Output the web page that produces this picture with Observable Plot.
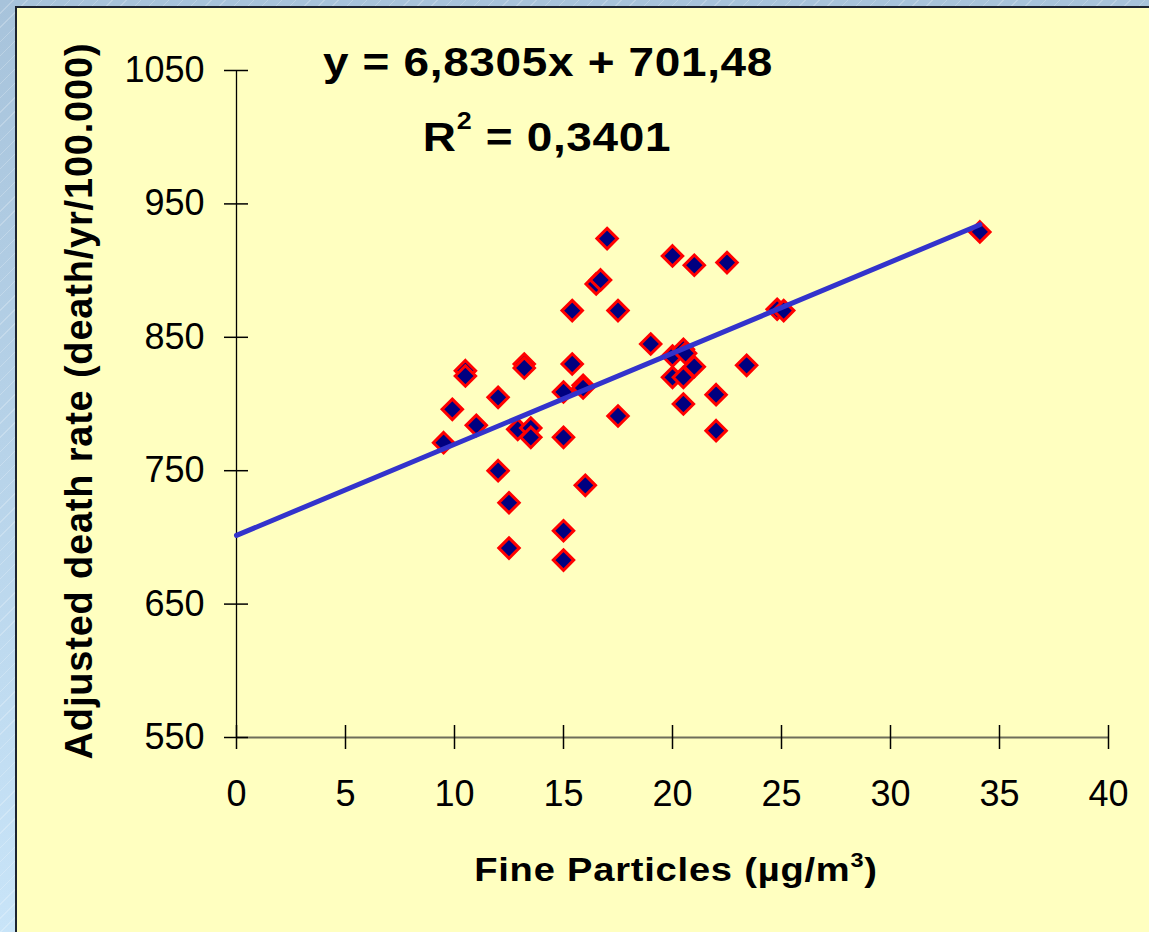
<!DOCTYPE html>
<html><head><meta charset="utf-8">
<script src="https://cdn.jsdelivr.net/npm/d3@7"></script>
<script src="https://cdn.jsdelivr.net/npm/@observablehq/plot@0.6"></script>
<style>
html,body{margin:0;padding:0;}
body{width:1149px;height:932px;overflow:hidden;position:relative;font-family:"Liberation Sans",Arial,sans-serif;
background: repeating-linear-gradient(135deg, rgba(255,255,255,0) 0 9px, rgba(255,255,255,0.22) 9px 10px), linear-gradient(to bottom,#a7c3db,#c8e4f8);}
#panel{position:absolute;left:15px;top:6px;width:1140px;height:930px;background:#ffffc0;border-left:2px solid #1c2430;border-top:2px solid #1c2430;}
#chart{position:absolute;left:0;top:0;}
.t{position:absolute;white-space:nowrap;font-weight:bold;line-height:1;color:#000;transform:translateX(-50%) scaleX(1.12);}
.t sup{line-height:0;vertical-align:baseline;position:relative;}
</style></head><body>
<div id="panel"></div>
<div id="chart"></div>
<div class="t" id="eq1" style="left:548px;top:42px;font-size:41px;letter-spacing:0.6px;">y = 6,8305x + 701,48</div>
<div class="t" id="eq2" style="left:547px;top:117px;font-size:41px;letter-spacing:0.6px;">R<sup style="font-size:24px;top:-22px;">2</sup> = 0,3401</div>
<div class="t" id="xlab" style="left:676px;top:852px;font-size:34px;letter-spacing:0.7px;">Fine Particles (µg/m<sup style="font-size:21px;top:-14px;">3</sup>)</div>
<div class="t" id="ylab" style="left:79px;top:401px;font-size:38px;letter-spacing:0.8px;transform:translate(-50%,-50%) rotate(-90deg);">Adjusted death rate (death/yr/100.000)</div>
<script>
// Data
const fineParticles = [9.5, 9.9, 10.5, 10.5, 11.0, 12.0, 12.0, 12.5, 12.5, 12.9, 13.5, 13.5, 13.2, 13.2, 15.0, 15.0, 15.0, 15.0, 15.4, 15.4, 15.9, 15.9, 16.0, 16.5, 16.7, 17.0, 17.5, 17.5, 19.0, 20.0, 20.0, 20.0, 20.5, 20.6, 20.5, 20.5, 21.0, 21.0, 22.0, 22.0, 22.5, 23.4, 24.8, 25.1, 34.1];
const deathRate = [771, 796, 825, 821, 784, 805, 750, 726, 692, 781, 782, 775, 830, 827, 809, 775, 705, 683, 830, 870, 814, 812, 739, 890, 893, 924, 870, 791, 845, 911, 836, 820, 841, 838, 820, 800, 904, 828, 807, 780, 906, 829, 871, 870, 929];
const trendSlope = 6.8305;
const trendIntercept = 701.48;
const trendRange = [0, 34.1];
const xTicks = [0, 5, 10, 15, 20, 25, 30, 35, 40];
const yTicks = [550, 650, 750, 850, 950, 1050];

const points = fineParticles.map((x, i) => ({x, y: deathRate[i]}));
const trend = trendRange.map(x => ({x, y: trendSlope * x + trendIntercept}));

const chart = Plot.plot({
  width: 1149,
  height: 932,
  marginLeft: 236,
  marginRight: 41,
  marginTop: 70,
  marginBottom: 195,
  x: {domain: [0, 40]},
  y: {domain: [550, 1050]},
  style: {background: "transparent", fontFamily: "'Liberation Sans', Arial, sans-serif", color: "#000", overflow: "visible"},
  marks: [
    Plot.ruleY([550], {stroke: "#6e6e5a", strokeWidth: 2}),
    Plot.ruleX([0], {stroke: "#000", strokeWidth: 1.3}),
    Plot.axisY({ticks: yTicks, tickSize: 12, tickPadding: 20, fontSize: 36, label: null, strokeWidth: 1.5, tickFormat: d => String(d)}),
    Plot.axisY({ticks: yTicks, tickSize: -12, tickFormat: () => "", label: null, strokeWidth: 1.5}),
    Plot.axisX({ticks: xTicks, tickSize: 12, tickPadding: 31, fontSize: 36, label: null, strokeWidth: 1.5, tickFormat: d => String(d)}),
    Plot.axisX({ticks: xTicks, tickSize: -12, tickFormat: () => "", label: null, strokeWidth: 1.5}),
    Plot.dot(points, {x: "x", y: "y", symbol: "diamond2", r: 9.2, fill: "#000080", stroke: "#ff0000", strokeWidth: 3}),
    Plot.line(trend, {x: "x", y: "y", stroke: "#3333cc", strokeWidth: 5})
  ]
});
document.getElementById("chart").appendChild(chart);
</script>
</body></html>
